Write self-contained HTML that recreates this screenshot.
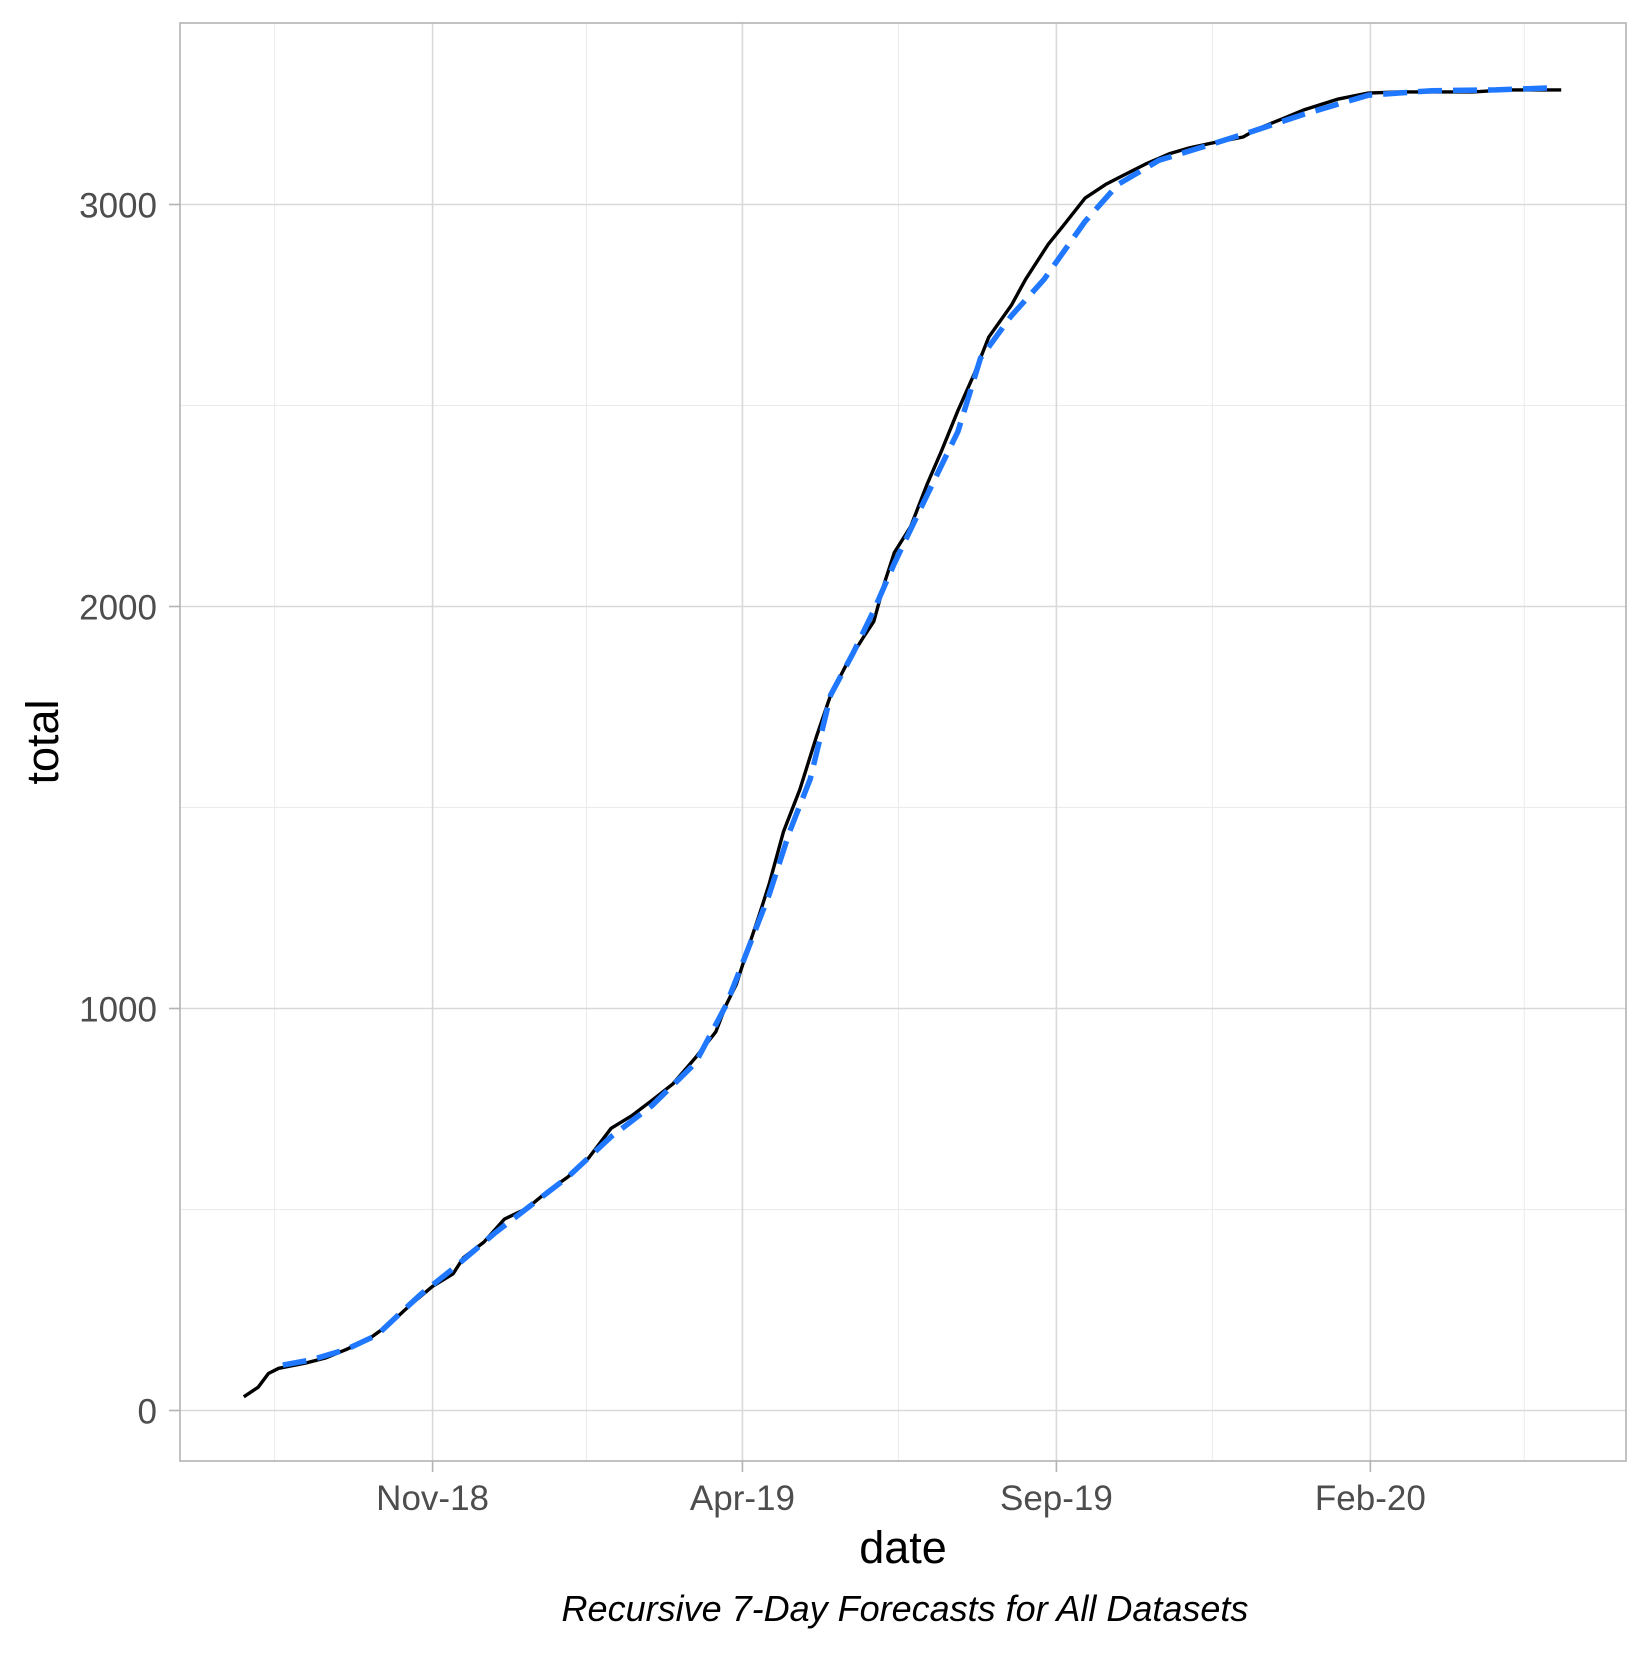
<!DOCTYPE html>
<html><head><meta charset="utf-8"><style>
body{margin:0;background:#fff}
svg text{font-family:"Liberation Sans",Arial,sans-serif}
</style></head><body>
<svg id="chart" width="1650" height="1650" viewBox="0 0 1650 1650" xmlns="http://www.w3.org/2000/svg">
<rect width="1650" height="1650" fill="#fff"/>
<g id="grid"></g><g id="series"></g><g id="axes"></g>
<rect x="180" y="23" width="1446" height="1438" fill="none" stroke="#b3b3b3" stroke-width="1.6"/>
<text x="903" y="1563" font-size="45" text-anchor="middle" fill="#000">date</text>
<text transform="translate(58,742) rotate(-90)" font-size="45" text-anchor="middle" fill="#000">total</text>
<text x="905" y="1621" font-size="36" font-style="italic" text-anchor="middle" fill="#000">Recursive 7-Day Forecasts for All Datasets</text>
</svg>
<script>
const actualDates=["2018-08-01","2018-08-08","2018-08-13","2018-08-18","2018-08-31","2018-09-10","2018-09-20","2018-10-01","2018-10-11","2018-10-21","2018-11-01","2018-11-11","2018-11-16","2018-11-26","2018-12-06","2018-12-17","2018-12-27","2019-01-06","2019-01-16","2019-01-27","2019-02-06","2019-02-16","2019-02-26","2019-03-09","2019-03-19","2019-03-24","2019-03-29","2019-04-03","2019-04-09","2019-04-14","2019-04-21","2019-04-29","2019-05-07","2019-05-14","2019-05-22","2019-05-30","2019-06-04","2019-06-09","2019-06-14","2019-06-22","2019-06-30","2019-07-07","2019-07-15","2019-07-23","2019-07-30","2019-08-10","2019-08-17","2019-08-28","2019-09-04","2019-09-15","2019-09-25","2019-10-05","2019-10-15","2019-10-26","2019-11-05","2019-11-15","2019-11-25","2019-12-01","2019-12-08","2019-12-21","2019-12-31","2020-01-16","2020-01-31","2020-02-16","2020-03-07","2020-03-22","2020-04-07","2020-05-04"];
const actualValues=[34,58,92,105,118,131,152,178,215,262,309,340,380,419,476,503,545,581,628,702,733,772,812,877,942,1008,1060,1139,1230,1309,1440,1545,1675,1780,1859,1924,1963,2055,2134,2199,2304,2387,2487,2579,2670,2749,2814,2901,2945,3016,3050,3076,3102,3126,3141,3152,3162,3168,3188,3215,3236,3262,3277,3280,3280,3280,3285,3285];
const forecastDates=["2018-08-20","2018-09-03","2018-09-20","2018-10-05","2018-10-15","2018-10-26","2018-11-11","2018-12-01","2018-12-17","2019-01-06","2019-01-27","2019-02-16","2019-03-09","2019-03-24","2019-03-31","2019-04-14","2019-04-24","2019-05-04","2019-05-14","2019-05-25","2019-06-04","2019-06-14","2019-06-30","2019-07-15","2019-07-26","2019-08-10","2019-08-26","2019-09-15","2019-10-01","2019-10-21","2019-11-10","2019-12-05","2019-12-31","2020-01-31","2020-03-02","2020-04-02","2020-04-28"];
const forecastValues=[113,126,152,188,236,288,353,440,503,581,681,759,864,1008,1099,1283,1440,1571,1780,1885,1990,2107,2277,2435,2618,2723,2814,2958,3050,3110,3141,3181,3225,3272,3283,3285,3290];
const yTicks=[0,1000,2000,3000];
const yMinor=[500,1500,2500];
const xTickDates=["2018-11-01","2019-04-01","2019-09-01","2020-02-01"];
const xTickLabels=["Nov-18","Apr-19","Sep-19","Feb-20"];
const xMinorDates=["2018-08-16","2019-01-15","2019-06-16","2019-11-16","2020-04-16"];

const NS="http://www.w3.org/2000/svg";
const ORIGIN=Date.UTC(2018,10,1);
function xScale(s){const d=(Date.parse(s+"T00:00:00Z")-ORIGIN)/86400000;return 432.6+d*2.052;}
function yScale(v){return 1410.5-v*0.402;}
function mk(tag,attrs,parent){const e=document.createElementNS(NS,tag);for(const k in attrs)e.setAttribute(k,attrs[k]);parent.appendChild(e);return e;}
const grid=document.getElementById('grid'),series=document.getElementById('series'),axes=document.getElementById('axes');

yMinor.forEach(v=>{const l=mk('line',{x1:180,x2:1626,y1:yScale(v),y2:yScale(v),stroke:'#ebebeb','stroke-width':1},grid);

});
xMinorDates.forEach(s=>{const l=mk('line',{x1:xScale(s),x2:xScale(s),y1:23,y2:1461,stroke:'#ebebeb','stroke-width':1},grid);

});
yTicks.forEach(v=>{const y=yScale(v);
const l=mk('line',{x1:180,x2:1626,y1:y,y2:y,stroke:'#d9d9d9','stroke-width':1.6},grid);


const t=mk('line',{x1:169,x2:180,y1:y,y2:y,stroke:'#b3b3b3','stroke-width':1.6},axes);


const tx=mk('text',{x:157,y:y+13,'font-size':35,'text-anchor':'end',fill:'#4d4d4d'},axes);tx.textContent=v;

});
xTickDates.forEach((s,i)=>{const x=xScale(s);
const l=mk('line',{x1:x,x2:x,y1:23,y2:1461,stroke:'#d9d9d9','stroke-width':1.6},grid);


const t=mk('line',{x1:x,x2:x,y1:1461,y2:1472,stroke:'#b3b3b3','stroke-width':1.6},axes);


const tx=mk('text',{x:x,y:1510,'font-size':35,'text-anchor':'middle',fill:'#4d4d4d'},axes);tx.textContent=xTickLabels[i];

});

function pts(ds,vs){return ds.map((d,i)=>xScale(d).toFixed(1)+','+yScale(vs[i]).toFixed(1)).join(' ');}
const a=mk('polyline',{points:pts(actualDates,actualValues),fill:'none',stroke:'#000','stroke-width':3.4,'stroke-linejoin':'round'},series);


const f=mk('polyline',{points:pts(forecastDates,forecastValues),fill:'none',stroke:'#1f78ff','stroke-width':5.5,'stroke-dasharray':'24 11'},series);


</script>
</body></html>
